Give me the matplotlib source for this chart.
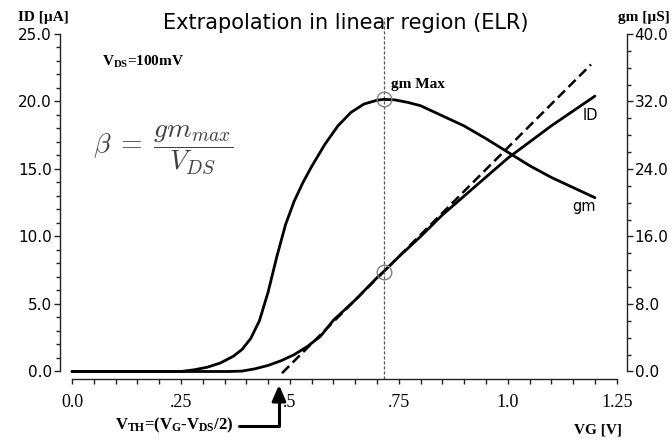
import numpy as np
import matplotlib.pyplot as plt
from matplotlib.ticker import MultipleLocator

# bold Times-like subscripts for the annotations
plt.rcParams['mathtext.fontset'] = 'custom'
plt.rcParams['mathtext.rm'] = 'Liberation Serif:bold'
plt.rcParams['mathtext.it'] = 'Liberation Serif:bold'
plt.rcParams['mathtext.bf'] = 'Liberation Serif:bold'

# transconductance gm [uS] vs gate voltage
vg_gm = [0.0, 0.25, 0.28, 0.31, 0.34, 0.37, 0.39, 0.41, 0.43, 0.45, 0.47, 0.49,
         0.51, 0.53, 0.55, 0.58, 0.61, 0.64, 0.67, 0.70, 0.715, 0.74, 0.77, 0.80,
         0.85, 0.90, 0.95, 1.00, 1.05, 1.10, 1.15, 1.20]
gm = [0.0, 0.0, 0.2, 0.5, 1.0, 1.8, 2.6, 3.9, 6.0, 9.4, 13.6, 17.4,
      20.2, 22.4, 24.3, 26.9, 29.1, 30.7, 31.7, 32.15, 32.25, 32.2, 31.9, 31.5,
      30.3, 29.1, 27.6, 26.0, 24.4, 23.0, 21.8, 20.6]

# drain current ID [uA] vs gate voltage
vg_id = [0.0, 0.36, 0.39, 0.42, 0.45, 0.48, 0.51, 0.54, 0.57, 0.60, 0.65,
         0.70, 0.715, 0.75, 0.80, 0.85, 0.90, 0.95, 1.00, 1.05, 1.10, 1.15, 1.20]
id_ua = [0.0, 0.0, 0.03, 0.2, 0.45, 0.8, 1.25, 1.85, 2.6, 3.8, 5.3,
         6.95, 7.39, 8.5, 10.0, 11.6, 13.0, 14.4, 15.8, 17.0, 18.2, 19.3, 20.4]

# point of maximum gm and range of the drawn tangent
vg_peak = 0.715
gm_peak = 32.25
id_at_peak = 7.39
tangent_vg = [0.482, 1.191]
vth = 0.475

x_ticks = [0.0, 0.25, 0.5, 0.75, 1.0, 1.25]
x_tick_labels = ['0.0', '.25', '.5', '.75', '1.0', '1.25']
id_ticks = [0, 5, 10, 15, 20, 25]
gm_ticks = [0, 8, 16, 24, 32, 40]

W, H = 672, 440
fig = plt.figure(figsize=(W / 100, H / 100), dpi=100)
ax = fig.add_axes([60 / W, 1 - 379 / H, 567 / W, 345 / H])
ax2 = ax.twinx()

ax.set_xlim(-0.0275, 1.2736)
ax.set_ylim(-0.556, 25.0)
ax2.set_ylim(-0.889, 40.0)

# spines: left ID axis, right gm axis, bottom VG axis
ax.spines['top'].set_visible(False)
ax.spines['right'].set_visible(False)
ax.spines['left'].set_bounds(0, 25)
ax.spines['bottom'].set_bounds(0, 1.25)
for s in ['top', 'left', 'bottom']:
    ax2.spines[s].set_visible(False)
ax2.spines['right'].set_bounds(0, 40)
for sp in list(ax.spines.values()) + list(ax2.spines.values()):
    sp.set_linewidth(1.0)
    sp.set_color('#222222')

ax.set_xticks(x_ticks, x_tick_labels, family='Liberation Serif', fontsize=13)
ax.xaxis.set_minor_locator(MultipleLocator(0.05))
ax.set_yticks(id_ticks, ['%.1f' % v for v in id_ticks], family='DejaVu Sans', fontsize=11)
ax.yaxis.set_minor_locator(MultipleLocator(1))
ax2.set_yticks(gm_ticks, ['%.1f' % v for v in gm_ticks], family='DejaVu Sans', fontsize=11)
ax2.yaxis.set_minor_locator(MultipleLocator(2))

ax.tick_params(axis='x', which='both', direction='out', length=3.6, width=1, pad=7, color='#222222')
ax.tick_params(axis='y', which='major', direction='out', length=4, width=1, pad=2, color='#222222')
ax.tick_params(axis='y', which='minor', direction='out', length=3, width=1, color='#222222')
ax2.tick_params(axis='y', which='major', direction='out', length=4, width=1, pad=1.5, color='#222222')
ax2.tick_params(axis='y', which='minor', direction='out', length=3, width=1, color='#222222')

# curves
ax.plot(vg_id, id_ua, color='black', lw=2.0, solid_capstyle='round', solid_joinstyle='round')
ax2.plot(vg_gm, gm, color='black', lw=2.0, solid_capstyle='round', solid_joinstyle='round')

# tangent to ID at gm max, extrapolated down to ID = 0
t_vg = np.array(tangent_vg)
t_id = id_at_peak + gm_peak * (t_vg - vg_peak)
ax.plot(t_vg, t_id, color='black', lw=1.8, dashes=(4, 2))

# vertical marker through the gm peak
ax.axvline(vg_peak, ymin=0, ymax=1.045, clip_on=False, color='#555555',
           lw=0.9, ls=(0, (2.5, 1.5)))
ax2.plot(vg_peak, gm_peak, 'o', ms=10.5, mfc='none', mec='#808080', mew=1.0)
ax.plot(vg_peak, id_at_peak, 'o', ms=10.5, mfc='none', mec='#808080', mew=1.0)

# labels
serif_b = dict(family='Liberation Serif', weight='bold')
ax.text(0.074, 0.919, r'$V_{DS}$=100mV', transform=ax.transAxes, fontsize=11,
        va='center', ha='left', **serif_b)
ax.text(0.584, 0.855, 'gm Max', transform=ax.transAxes, fontsize=11,
        va='center', ha='left', **serif_b)
ax.text(0.922, 0.765, 'ID', transform=ax.transAxes, fontsize=10.5,
        va='center', ha='left', family='DejaVu Sans')
ax.text(0.903, 0.499, 'gm', transform=ax.transAxes, fontsize=10.5,
        va='center', ha='left', family='DejaVu Sans')
ax.text(0.1825, 0.664, r'$\beta\;=\;\dfrac{gm_{max}}{V_{DS}}$', transform=ax.transAxes,
        fontsize=20, color='#404040', math_fontfamily='cm', ha='center', va='center')

fig.text(345.5 / W, 1 - 29 / H, 'Extrapolation in linear region (ELR)', ha='center',
         va='baseline', fontsize=15, family='DejaVu Sans', color='black')
fig.text(18 / W, 1 - 18 / H, 'ID [µA]', fontsize=11, ha='left', va='center', **serif_b)
fig.text(618 / W, 1 - 18 / H, 'gm [µS]', fontsize=11, ha='left', va='center', **serif_b)
fig.text(574 / W, 1 - 429.5 / H, 'VG [V]', fontsize=11, ha='left', va='center', **serif_b)

ax.annotate(r'$V_{TH}$=($V_G$-$V_{DS}$/2)', xy=(vth, -0.017),
            xycoords=('data', 'axes fraction'),
            xytext=(115 / W, 1 - 425.5 / H), textcoords='figure fraction',
            fontsize=12, ha='left', va='center', annotation_clip=False, **serif_b,
            arrowprops=dict(arrowstyle='-|>,head_length=0.8,head_width=0.35',
                            connectionstyle='angle,angleA=0,angleB=90,rad=0',
                            relpos=(1.0, 0.45), shrinkA=2, shrinkB=0,
                            color='black', lw=2.2))

fig.savefig('out.png', dpi=100)
